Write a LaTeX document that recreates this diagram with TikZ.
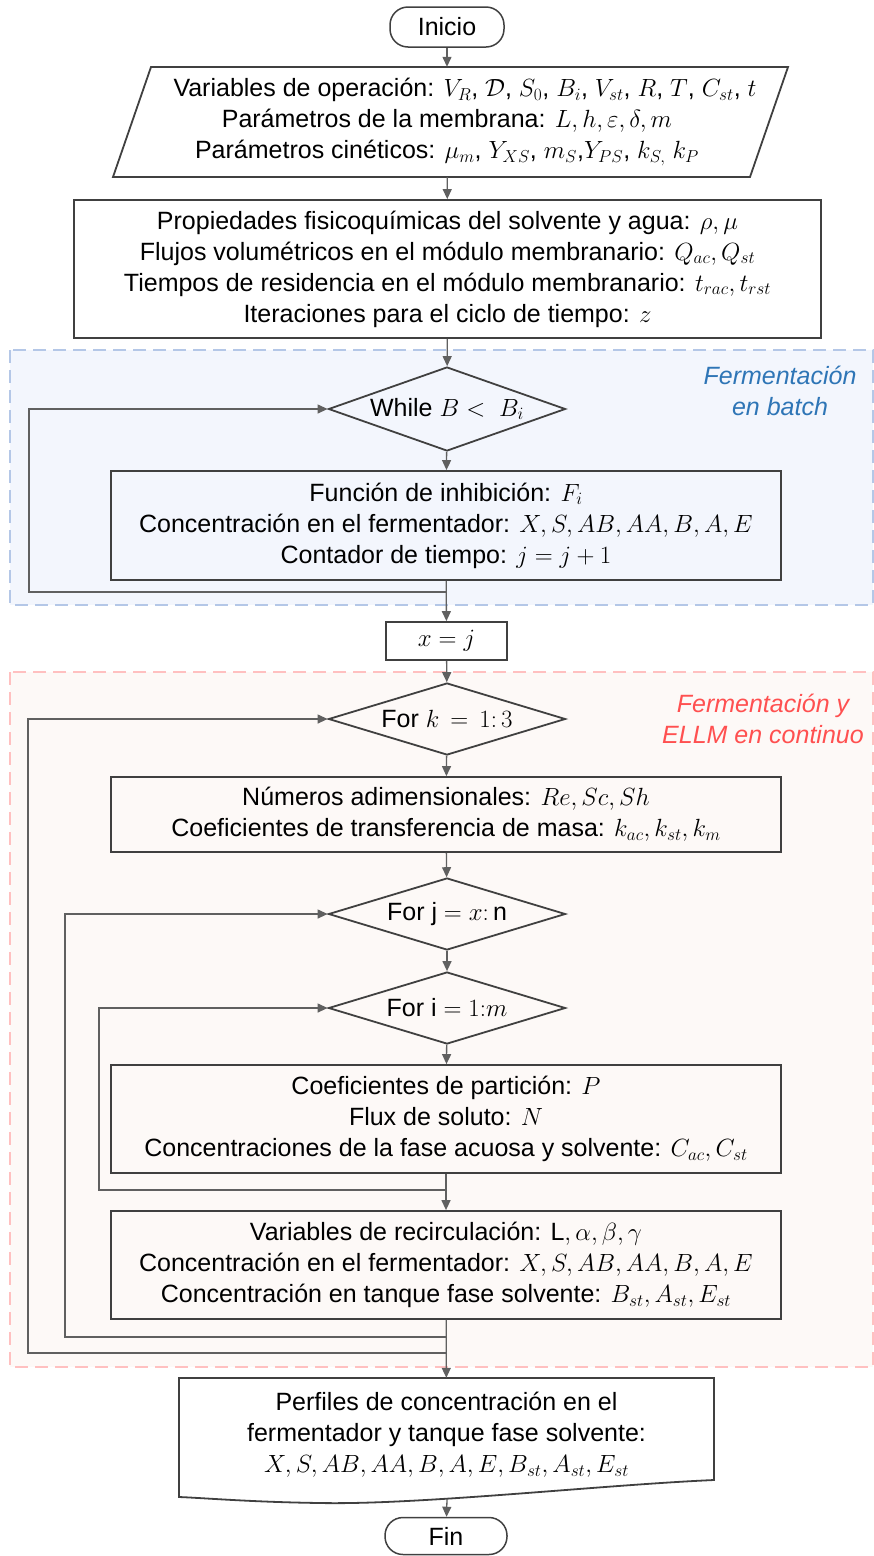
\documentclass[tikz,border=0pt]{standalone}
\usepackage{amsmath}
\usepackage{fontspec}
\setmainfont{Liberation Sans}
\usetikzlibrary{shapes.geometric,arrows.meta,positioning}

\definecolor{linegray}{HTML}{606060}
\definecolor{boxgray}{HTML}{404040}
\definecolor{batchblue}{HTML}{2E75B6}
\definecolor{batchline}{HTML}{B4C7E7}
\definecolor{batchfill}{HTML}{F3F6FD}
\definecolor{contred}{HTML}{FF5050}
\definecolor{contline}{HTML}{FFC0C0}
\definecolor{contfill}{HTML}{FDF9F7}

\tikzset{
  flowtext/.style={font=\fontsize{25}{31}\selectfont, align=center},
  process/.style={flowtext, draw=boxgray, line width=1.8pt, inner sep=0pt},
  decision/.style={flowtext, diamond, draw=boxgray, line width=1.8pt, inner sep=0pt, aspect=2.8, minimum width=237pt, minimum height=72pt},
  terminal/.style={flowtext, draw=boxgray, line width=1.5pt, rounded corners=18pt, inner sep=0pt},
  arr/.style={draw=linegray, line width=1.3pt, -{Triangle[length=10pt,width=9pt]}},
  zone/.style={dash pattern=on 13pt off 7pt, line width=2.2pt},
  zonelabel/.style={font=\fontsize{25}{31}\selectfont\itshape, align=center}
}

\begin{document}
\begin{tikzpicture}[x=1pt,y=-1pt]
\useasboundingbox (0,0) rectangle (874,1556);

% zonas
\draw[zone, draw=batchline, fill=batchfill] (10,350) rectangle (873,605);
\draw[zone, draw=contline, fill=contfill] (10,672) rectangle (873,1367);
\node[zonelabel, text=batchblue] (batchlbl) at (780,391) {Fermentación\\en batch};
\node[zonelabel, text=contred] (contlbl) at (763,719) {Fermentación y\\ELLM en continuo};

% bloques
\node[terminal, minimum width=114pt, minimum height=40pt] (inicio) at (447,27) {Inicio};

\draw[draw=boxgray, line width=1.8pt] (151,67) -- (788,67) -- (750,177) -- (113,177) -- cycle;
\node[flowtext, minimum width=600pt, minimum height=110pt, inner sep=0pt] (inputs) at (447,122)
  {\hspace*{36pt}Variables de operación: $V_R$, $\mathcal{D}$, $S_0$, $B_i$, $V_{st}$, $R$, $T$, $C_{st}$, $t$\\
   Parámetros de la membrana: $L, h, \varepsilon, \delta, m$\\
   Parámetros cinéticos: $\mu_m$, $Y_{XS}$, $m_S$,$Y_{PS}$, $k_{S,}$ $k_P$};

\node[process, minimum width=747pt, minimum height=138pt] (props) at (447.5,269)
  {Propiedades fisicoquímicas del solvente y agua: $\rho,\mu$\\
   Flujos volumétricos en el módulo membranario: $Q_{ac},Q_{st}$\\
   Tiempos de residencia en el módulo membranario: $t_{rac},t_{rst}$\\
   Iteraciones para el ciclo de tiempo: $z$};

\node[decision, minimum height=84pt] (while) at (447,409) {\makebox[0pt]{While $B <\ B_i$}};

\node[process, minimum width=670pt, minimum height=109pt] (batch) at (446,525.5)
  {Función de inhibición: $F_i$\\
   Concentración en el fermentador: $X,S,AB,AA,B,A,E$\\
   Contador de tiempo: $j=j+1$};

\node[process, minimum width=121pt, minimum height=38pt] (xj) at (446.5,641) {$x=j$};

\node[decision] (fork) at (447,719) {\makebox[0pt]{For $k\,=\,1{:}\,3$}};

\node[process, minimum width=670pt, minimum height=75pt] (dimless) at (446,814.5)
  {Números adimensionales: $Re,Sc,Sh$\\
   Coeficientes de transferencia de masa: $k_{ac},k_{st},k_m$};

\node[decision] (forj) at (447,914) {\makebox[0pt]{For $\mathrm{j}=x{:}\,\mathrm{n}$}};
\node[decision] (fori) at (447,1008) {\makebox[0pt]{For $\mathrm{i}=1{:}m$}};

\node[process, minimum width=670pt, minimum height=108pt] (partition) at (446,1119)
  {Coeficientes de partición: $P$\\
   Flux de soluto: $N$\\
   Concentraciones de la fase acuosa y solvente: $C_{ac},C_{st}$};

\node[process, minimum width=670pt, minimum height=108pt] (recirc) at (446,1265)
  {Variables de recirculación: $\mathrm{L},\alpha,\beta,\gamma$\\
   Concentración en el fermentador: $X,S,AB,AA,B,A,E$\\
   Concentración en tanque fase solvente: $B_{st},A_{st},E_{st}$};

\draw[draw=boxgray, line width=1.8pt] (179,1378) -- (714,1378) -- (714,1480)
  .. controls (600,1485) and (420,1505) .. (320,1503)
  .. controls (250,1502) and (205,1498) .. (179,1497) -- cycle;
\node[flowtext, minimum width=535pt, minimum height=114pt, inner sep=0pt] (profiles) at (446.5,1435)
  {Perfiles de concentración en el\\
   fermentador y tanque fase solvente:\\
   $X,S,AB,AA,B,A,E,B_{st},A_{st},E_{st}$};
\coordinate (docbot) at (447,1499);

\node[terminal, minimum width=122pt, minimum height=37pt] (fin) at (446,1536) {Fin};

% conectores
\draw[arr] (inicio) -- (inputs);
\draw[arr] (inputs) -- (props);
\draw[arr] (props) -- (while);
\draw[arr] (while) -- (batch);
\draw[arr] (batch) -- (xj);
\draw[arr] (xj) -- (fork);
\draw[arr] (fork) -- (dimless);
\draw[arr] (dimless) -- (forj);
\draw[arr] (forj) -- (fori);
\draw[arr] (fori) -- (partition);
\draw[arr] (partition) -- (recirc);
\draw[arr] (recirc) -- (profiles);
\draw[arr] (docbot) -- (fin);

% retornos de los ciclos
\coordinate (retb) at (447,592);
\coordinate (reti) at (447,1190);
\coordinate (retj) at (447,1337);
\coordinate (retk) at (447,1353);
\draw[arr] (retb) -- (29,592) |- (while);
\draw[arr] (reti) -- (99,1190) |- (fori);
\draw[arr] (retj) -- (65,1337) |- (forj);
\draw[arr] (retk) -- (28,1353) |- (fork);
\end{tikzpicture}
\end{document}
